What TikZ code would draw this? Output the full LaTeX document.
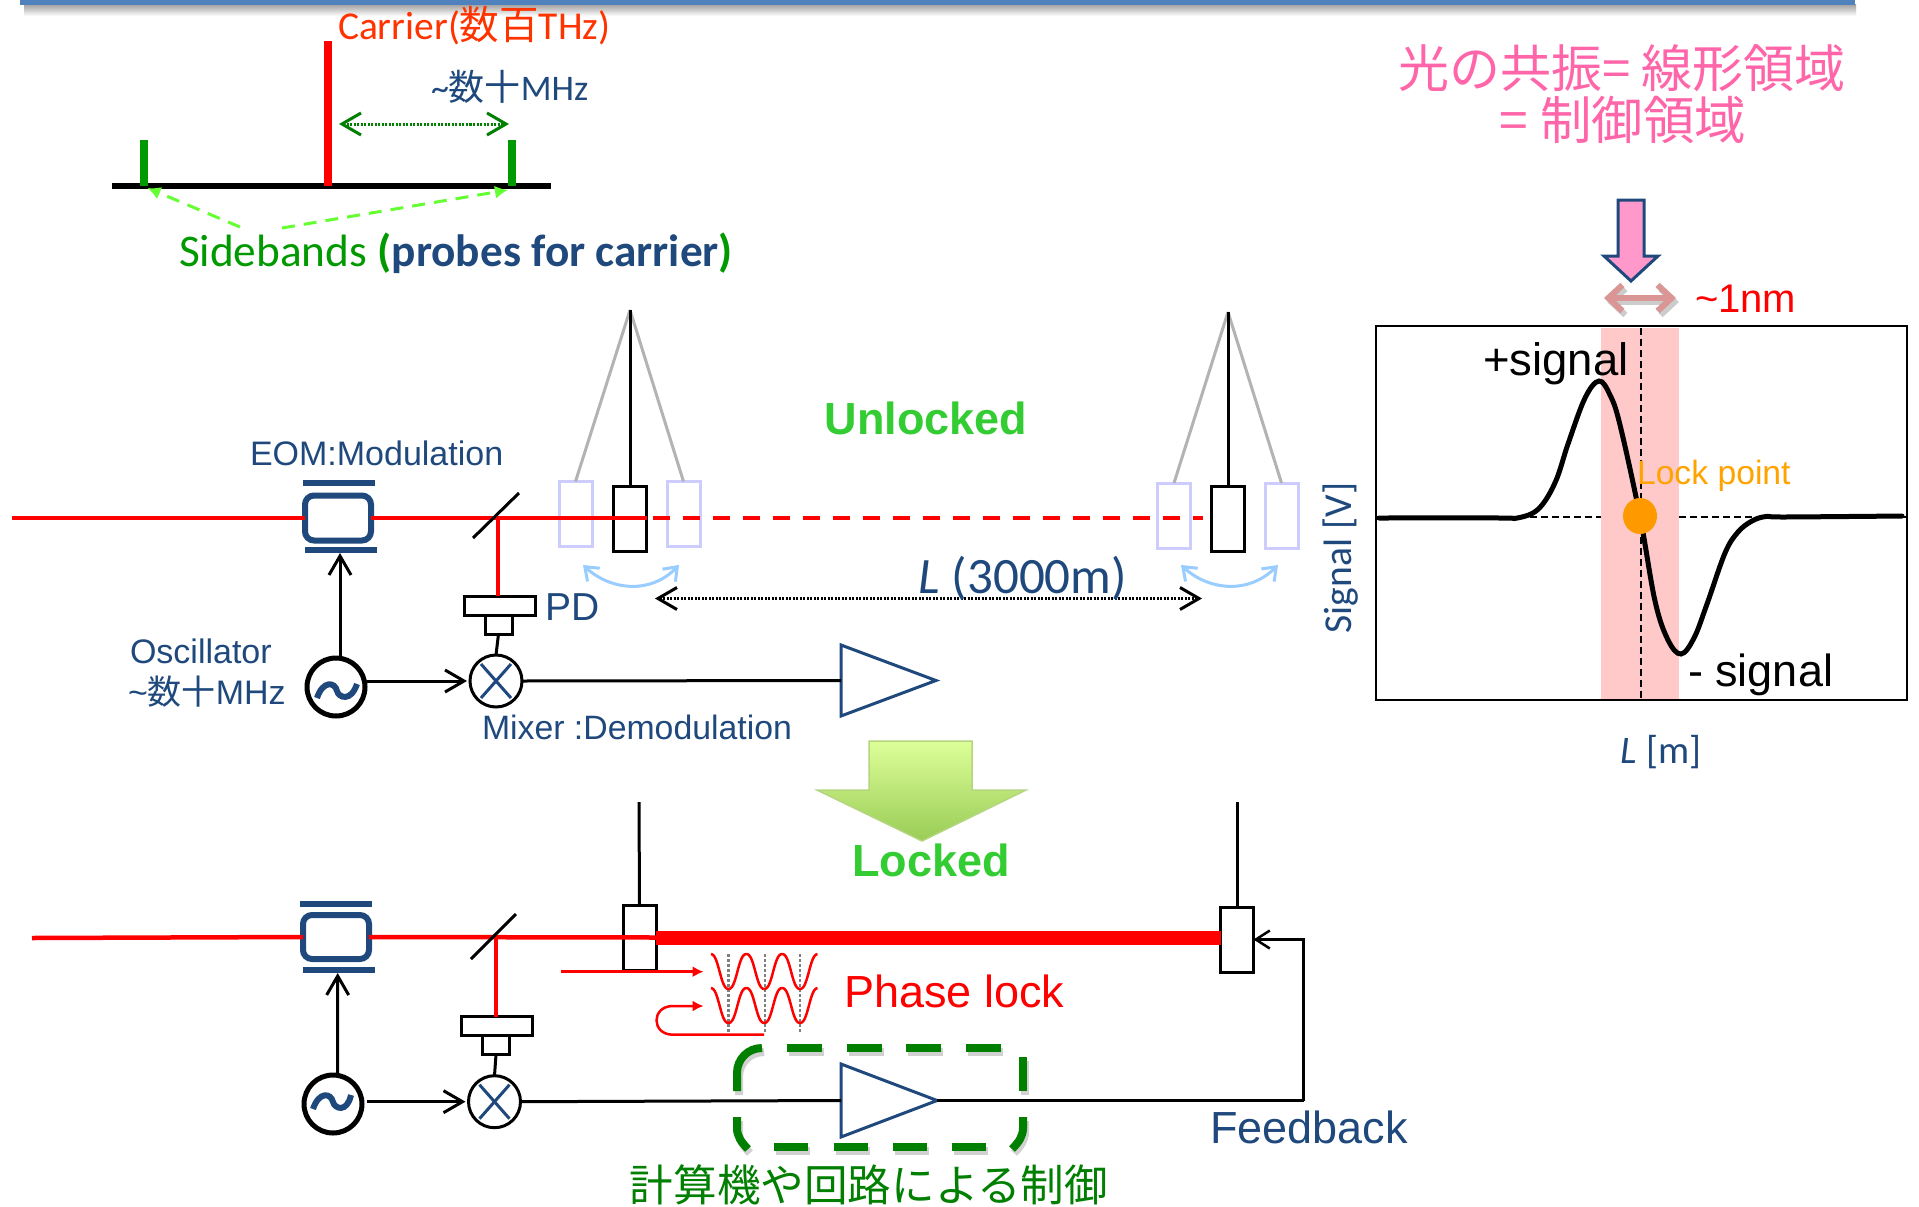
\documentclass[tikz,border=0pt]{standalone}
\usepackage{fontspec}
\setmainfont{Liberation Sans}
\newfontfamily\calib{Carlito}
\newfontfamily\cjk{Noto Sans CJK JP}
\usetikzlibrary{arrows.meta,shapes.geometric,calc}
\newcommand\fs[1]{\fontsize{#1}{#1}\selectfont}
\definecolor{navy}{HTML}{1F497D}
\definecolor{barblue}{HTML}{4F81BD}
\definecolor{sgreen}{HTML}{009900}
\definecolor{dgreen}{HTML}{007F00}
\definecolor{ghost}{HTML}{CCCCFF}
\definecolor{wire}{HTML}{B3B3B3}
\definecolor{swing}{HTML}{99CCFF}
\definecolor{limeg}{HTML}{33CC33}
\definecolor{pinktxt}{HTML}{FF66AA}
\definecolor{band}{HTML}{FFC9C9}
\definecolor{rose}{HTML}{D99694}
\definecolor{dotor}{HTML}{FF9900}
\definecolor{sbarrow}{HTML}{66FF33}
\definecolor{pinkfill}{HTML}{FF99CC}
\definecolor{ctop}{HTML}{DDFF99}
\definecolor{cbot}{HTML}{99CC55}
\definecolor{cedge}{HTML}{B5D57F}
\definecolor{carr}{HTML}{FF3300}
\tikzset{
 x=1pt,y=-1pt,
 every node/.style={inner sep=0pt,outer sep=0pt},
 barbtip/.style={-{Straight Barb[length=19pt,width=22pt,line width=3pt]}},
 barbboth/.style={{Straight Barb[length=19pt,width=22pt,line width=3pt]}-{Straight Barb[length=19pt,width=22pt,line width=3pt]}},
 wireline/.style={line width=3pt,black},
 beam/.style={line width=4.5pt,red},
 mirrorbox/.style={draw=black,line width=3pt,minimum width=33pt,minimum height=65pt},
 ghostbox/.style={draw=ghost,line width=3pt,minimum width=33pt,minimum height=65pt},
 eombox/.style={draw=navy,line width=6pt,rounded corners=9pt,minimum width=66pt,minimum height=45pt},
 plate/.style={fill=navy,minimum width=72pt,minimum height=6pt},
 pdbig/.style={draw=black,line width=3pt,minimum width=71pt,minimum height=19pt},
 pdsmall/.style={draw=black,line width=3pt,minimum width=27pt,minimum height=19pt},
 mixernode/.style={draw=black,line width=3pt,ellipse,minimum width=52pt,minimum height=52pt},
 oscnode/.style={draw=black,line width=5pt,ellipse,minimum width=58pt,minimum height=58pt},
 ampnode/.style={draw=navy,line width=3pt,fill=white},
 label/.style={navy,anchor=west},
 swingarc/.style={swing,line width=3pt,{Straight Barb[length=12pt,width=18pt,line width=3pt]}-{Straight Barb[length=12pt,width=18pt,line width=3pt]}},
 fineDash/.style={black,line width=1.5pt,dash pattern=on 7pt off 4pt},
 gdash/.style={dgreen,line width=8pt},
 gdashsh/.style={black!18,line width=8pt},
}
\begin{document}
\begin{tikzpicture}
\useasboundingbox (0,0) rectangle (1919,1207);
\fill[white] (0,0) rectangle (1919,1207);
% top bar
\path[top color=black!35,bottom color=white,draw=none] (24,5) rectangle (1856,16);
\fill[barblue] (20,0) rectangle (1855,5);

% spectrum
\draw[line width=6pt,black] (112,186) -- (551,186);
\node[draw=none,fill=red,minimum width=8pt,minimum height=145pt] (carrierbar) at (327.5,113.5) {};
\node[fill=sgreen,minimum width=8pt,minimum height=46pt] (sbl) at (143.5,163) {};
\node[fill=sgreen,minimum width=8pt,minimum height=46pt] (sbr) at (512,163) {};
\node[anchor=west,text=carr] (carriertxt) at (338,26) {\fs{39.5}\calib Carrier({\cjk 数百}THz)};
\node[label] (mhztop) at (431,87) {\fs{36}\calib \textasciitilde{\cjk 数十}MHz};
\coordinate (spl) at (339,124);
\coordinate (spr) at (509,124);
\draw[dgreen,line width=3pt,dash pattern=on 2pt off 1.5pt,{Straight Barb[length=19pt,width=22pt,line width=3pt]}-{Straight Barb[length=19pt,width=22pt,line width=3pt]}] (spl) -- (spr);
\node[anchor=west] (sidetxt) at (179,253) {\fs{45.3}\calib\textcolor{sgreen}{Sidebands} \textcolor{sgreen}{\textbf{(}}\textcolor{navy}{\textbf{probes for carrier}}\textcolor{sgreen}{\textbf{)}}};
\coordinate (sd1) at (240,227);
\coordinate (sd2) at (282,228);
\draw[sbarrow,line width=3pt,dash pattern=on 13pt off 9pt,-{Latex[length=13pt,width=13pt]}] (sd1) -- ([shift={(4,2)}]sbl.south);
\draw[sbarrow,line width=3pt,dash pattern=on 13pt off 9pt,-{Latex[length=13pt,width=13pt]}] (sd2) -- ([shift={(-4,4)}]sbr.south);

% pink heading
\node (pink1) at (1622,68) {\fs{51}\cjk\textcolor{pinktxt}{光の共振= 線形領域}};
\node (pink2) at (1623,120) {\fs{51.5}\cjk\textcolor{pinktxt}{= 制御領域}};

% plot
\fill[band] (1601,328) rectangle (1679,700);
\draw[black,line width=1.5pt] (1376,326) rectangle (1907,700);
\draw[fineDash] (1641,328) -- (1641,700);
\draw[fineDash] (1376,517) -- (1601,517);
\draw[fineDash] (1679,517) -- (1907,517);
\node[anchor=west,text=black] (plus) at (1483,364) {\fs{45.5}+signal};
\draw[black,line width=5pt,line cap=round] plot[smooth,tension=.6] coordinates{(1379,518)(1501,518)(1515,518.4)(1533,513)(1545,501)(1557,478)(1568,444)(1585,398)(1599,381)(1610,395)(1620,425)(1640,516.5)(1655,601)(1668,640)(1681,654)(1694,638)(1707,604)(1725,553)(1738,532)(1752,521)(1766,516.5)(1785,517)(1902,516)};
\node[ellipse,fill=dotor,minimum width=34pt,minimum height=36pt] (lockdot) at (1640,516) {};
\node[anchor=west,text=dotor!90!yellow] (locktxt) at (1637,476) {\fs{33.7}Lock point};
\node[anchor=west,text=black] (minus) at (1688,675) {\fs{45}- signal};
\node[rotate=90,text=navy] (ylab) at (1341,558) {\fs{39.6}\calib Signal [V]};
\node[text=navy] (xlab) at (1661,752) {\fs{39}\calib \textit{L} [m]};
\node[anchor=west,text=red] (nm) at (1695,299) {\fs{40}\textasciitilde 1nm};
% pink arrow
\draw[navy,line width=3pt,fill=pinkfill,line join=miter] (1618,200) -- (1644,200) -- (1644,256) -- (1658,256) -- (1631,281) -- (1604,256) -- (1618,256) -- cycle;
\draw[black!20,line width=6pt,shift={(3,4)},{Straight Barb[length=14pt,width=26pt,line width=6pt]}-{Straight Barb[length=14pt,width=26pt,line width=6pt]}] (1604,298) -- (1676,298);
\draw[rose,line width=6pt,{Straight Barb[length=14pt,width=26pt,line width=6pt]}-{Straight Barb[length=14pt,width=26pt,line width=6pt]}] (1604,298) -- (1676,298);

% upper system
\node[eombox] (eomU) at (338,518) {};
\node[plate] (eomUt) at (339,483) {};
\node[plate] (eomUb) at (341,550) {};
\node[mixernode] (mixU) at (496,681) {};
\node[oscnode] (oscU) at (336,687) {};
\node[pdbig] (pdU) at (499.5,605.5) {};
\node[pdsmall] (pdsU) at (498.5,624.5) {};
\node[ghostbox] (g1) at (575.5,514) {};
\node[mirrorbox] (m1) at (630,518.5) {};
\node[ghostbox] (g2) at (683.5,514) {};
\node[ghostbox] (g3) at (1174,515.5) {};
\node[mirrorbox] (m2) at (1228,519) {};
\node[ghostbox] (g4) at (1281.5,515.5) {};
\coordinate (srcU) at (12,518);
\coordinate (tapU) at (498,518);
\coordinate (apex1) at (630,310);
\coordinate (apex2) at (1228,312);
\draw[beam] (srcU) -- (eomU.west);
\draw[beam] (eomU.east) -- (m1.east |- eomU.east);
\draw[beam,dash pattern=on 17pt off 13pt] ($(m1.east |- eomU.east)+(6,0)$) -- ($(m2.west |- eomU.east)+(-9,0)$);
\draw[beam] (tapU) -- (pdU.north -| tapU);
\coordinate (bs1a) at (473,538);
\coordinate (bs1b) at (519,493);
\draw[wireline] (bs1a) -- (bs1b);
\draw[wire,line width=3pt] (apex1) -- (g1.north);
\draw[wire,line width=3pt] (apex1) -- (g2.north);
\draw[wireline] (apex1) -- (m1.north);
\draw[wire,line width=3pt] (apex2) -- (g3.north);
\draw[wire,line width=3pt] (apex2) -- (g4.north);
\draw[wireline] (apex2) -- (m2.north);
\coordinate (sw1) at (583,565);
\coordinate (sw2) at (679,565);
\coordinate (sw3) at (1181,565);
\coordinate (sw4) at (1278,565);
\draw[swingarc] (sw1) .. controls (610,590) and (650,595) .. (sw2);
\draw[swingarc] (sw3) .. controls (1208,590) and (1248,595) .. (sw4);
\coordinate (la) at (655,598.5);
\coordinate (lb) at (1202,598.5);
\draw[wireline,dash pattern=on 2pt off 1.5pt,barbboth] (la) -- (lb);
\node[anchor=center,text=navy] (llab) at (1023,578) {\fs{51}\calib\textit{L} (3000m)};
\draw[wireline] (pdsU.south) -- (mixU.north);
\draw[wireline,barbtip] ([xshift=2pt]oscU.east |- mixU.west) -- ([xshift=-3pt]mixU.west);
\draw[wireline,barbtip] ([xshift=4pt]oscU.north) -- ([xshift=-1pt]eomUb.south);
\node[ampnode,isosceles triangle,isosceles triangle apex angle=41,minimum height=71pt,minimum width=71pt,anchor=west] (ampU) at (841,680.5) {};
\draw[wireline] (mixU.east) -- (ampU.west);
\draw[navy,line width=6pt,line cap=butt] (317,698) .. controls (323,680) and (335,682) .. (337,691) .. controls (339,698) and (351,702) .. (357,684);
\draw[navy,line width=3pt] ($(mixU)+(-15,-17)$) -- ($(mixU)+(15,17)$);
\draw[navy,line width=3pt] ($(mixU)+(15,-17)$) -- ($(mixU)+(-15,17)$);
\node[label] (eomtxt) at (250,453) {\fs{34}EOM:Modulation};
\node[label] (pdtxt) at (545,607) {\fs{39}PD};
\node[label] (osctxt) at (130,651) {\fs{34}Oscillator};
\node[label] (osc2txt) at (128,691.5) {\fs{34}\textasciitilde{\cjk 数十}MHz};
\node[label] (mixtxt) at (482,727) {\fs{33.8}Mixer :Demodulation};
\node[text=limeg] (unl) at (926,418.5) {\fs{45}\textbf{Unlocked}};
% big arrow
\path[draw=cedge,line width=1.5pt,top color=ctop,bottom color=cbot] (869,741) -- (972,741) -- (972,790) -- (1026,790) -- (922,841) -- (817,790) -- (869,790) -- cycle;
\node[text=limeg] (lck) at (931,860) {\fs{45}\textbf{Locked}};

% lower system
\node[eombox,minimum width=66pt,minimum height=44pt] (eomL) at (336,937) {};
\node[plate] (eomLt) at (336,904) {};
\node[plate] (eomLb) at (338.7,970) {};
\node[mixernode] (mixL) at (494.5,1101.7) {};
\node[oscnode] (oscL) at (333,1104) {};
\node[pdbig] (pdL) at (497,1026) {};
\node[pdsmall] (pdsL) at (496,1045) {};
\node[mirrorbox] (m3) at (639.5,937.5) {};
\node[mirrorbox] (m4) at (1237,939.5) {};
\coordinate (srcL) at (32,938);
\coordinate (tapL) at (496,938);
\coordinate (top3) at (639,802);
\coordinate (top4) at (1237,802);
\coordinate (bs2a) at (471,959);
\coordinate (bs2b) at (516,914);
\draw[beam] (srcL) -- (eomL.west);
\draw[beam] (eomL.east) -- (m3.east);
\draw[beam] (tapL) -- (pdL.north -| tapL);
\draw[red,line width=14pt] (m3.east |- tapL) -- (m4.west |- tapL);
\draw[wireline] (bs2a) -- (bs2b);
\draw[wireline] (top3) -- (m3.north);
\draw[wireline] (top4) -- (m4.north);
\draw[wireline] (pdsL.south) -- (mixL.north);
\draw[wireline,barbtip] ([xshift=5pt]oscL.east |- mixL.west) -- ([xshift=-3pt]mixL.west);
\draw[wireline,barbtip] ([xshift=4.5pt]oscL.north) -- ([xshift=-1pt]eomLb.south);
\node[ampnode,isosceles triangle,isosceles triangle apex angle=41.6,minimum height=73pt,minimum width=73pt,anchor=west] (ampL) at (841,1100.5) {};
\draw[wireline] (mixL.east) -- (ampL.west);
\coordinate (fbk) at (1303.5,1100.5);
\draw[wireline] (ampL.east) -- (fbk);
\draw[wireline,-{Straight Barb[length=14pt,width=18pt,line width=2.5pt]}] (fbk) -- (fbk |- m4.east) -- (m4.east);
\draw[navy,line width=6pt] (313,1109) .. controls (319,1091) and (331,1093) .. (333,1102) .. controls (335,1109) and (347,1113) .. (351,1095);
\draw[navy,line width=3pt] ($(mixL)+(-15,-17)$) -- ($(mixL)+(15,17)$);
\draw[navy,line width=3pt] ($(mixL)+(15,-17)$) -- ($(mixL)+(-15,17)$);
\node[label] (fbtxt) at (1210,1127) {\fs{45}Feedback};

% phase lock
\foreach \vx in {728.5,765,800}
  \draw[black!50,line width=2.5pt,dash pattern=on 2.5pt off 2.5pt] (\vx,954) -- (\vx,1033);
\draw[red,line width=2.5pt] plot[domain=711:817.5,samples=120,smooth] (\x,{971.5+18.4*(cos((\x-728.5)/35.75*360)-0.05*cos((\x-728.5)/35.75*1080))});
\draw[red,line width=2.5pt] plot[domain=711:817.5,samples=120,smooth] (\x,{1005.5+18.4*(cos((\x-728.5)/35.75*360)-0.05*cos((\x-728.5)/35.75*1080))});
\coordinate (ph1) at (561,971.7);
\coordinate (ph2) at (703.6,971.7);
\coordinate (ph3) at (764,1034.7);
\coordinate (ph4) at (703.6,1006);
\draw[red,line width=2.5pt,-{Latex[length=11pt,width=11pt]}] (ph1) -- (ph2);
\draw[red,line width=2.5pt,-{Latex[length=11pt,width=11pt]}] (ph3) -- (673,1034.7) .. controls (651,1034.7) and (651,1006) .. (673,1006) -- (ph4);
\node[anchor=west,text=red] (phtxt) at (844,991) {\fs{45}Phase lock};

% green dashed box
\foreach \s/\dx/\dy in {gdashsh/2/4,gdash/0/0}{
\begin{scope}[shift={(\dx,\dy)}]
\draw[\s] (737,1091) -- (737,1073) .. controls (737,1059) and (748,1048) .. (762,1048);
\foreach \a in {787,847,906,966} \draw[\s] (\a,1048) -- ++(35,0);
\draw[\s] (1023,1057) -- (1023,1091);
\draw[\s] (1023,1117) -- (1023,1128) .. controls (1023,1136) and (1019,1142) .. (1012,1149);
\draw[\s] (737,1117) -- (737,1128) .. controls (737,1136) and (741,1142) .. (748,1149);
\foreach \a in {774,834,893,952} \draw[\s] (\a,1147) -- ++(34,0);
\end{scope}}
\node[text=dgreen] (ctl) at (869,1185) {\fs{43.6}\cjk 計算機や回路による制御};
\end{tikzpicture}
\end{document}
